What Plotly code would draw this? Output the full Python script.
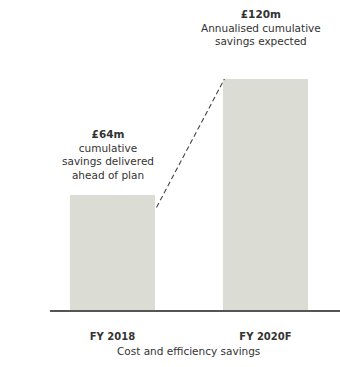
import plotly.graph_objects as go

categories = ["FY 2018", "FY 2020F"]
values = [64, 120]
value_labels = ["£64m", "£120m"]
descriptions = ["cumulative<br>savings delivered<br>ahead of plan",
                "Annualised cumulative<br>savings expected"]
axis_title = "Cost and efficiency savings"

bar_color = "#dbdcd4"
text_color = "#333333"
font_family = "'DejaVu Sans', sans-serif"
bar_width = 0.556

fig = go.Figure()
fig.add_trace(go.Bar(x=[0, 1], y=values, width=bar_width,
                     marker=dict(color=bar_color, line=dict(width=0)),
                     hoverinfo="skip"))

# dashed connector between the bars
fig.add_trace(go.Scatter(x=[0 + bar_width / 2 + 0.01, 1 - bar_width / 2 + 0.01],
                         y=[values[0] - 6, values[1]],
                         mode="lines", line=dict(color="#444444", width=1.1, dash="5px,3px"),
                         hoverinfo="skip"))

# annotations above bars
label_pos = [(-0.03, 97.5), (-0.03 + 1, 155)]
for i, (xx, yy) in enumerate(label_pos):
    fig.add_annotation(x=xx, y=yy, xref="x", yref="y", yanchor="top", showarrow=False,
                       text="<b>" + value_labels[i] + "</b><br>" + descriptions[i],
                       font=dict(family=font_family, size=10.5, color=text_color),
                       align="center")

fig.add_annotation(x=0.5, y=0, xref="x", yref="paper", yanchor="middle", yshift=-40,
                   showarrow=False, text=axis_title,
                   font=dict(family=font_family, size=10.5, color=text_color))

fig.update_layout(
    width=340, height=367,
    margin=dict(l=50, r=0, t=0, b=56),
    paper_bgcolor="white", plot_bgcolor="white",
    showlegend=False,
    xaxis=dict(range=[-0.408, 1.487], tickmode="array", tickvals=[0, 1],
               ticktext=["<b>" + c + "</b>" for c in categories],
               tickfont=dict(family=font_family, size=10, color=text_color),
               showgrid=False, zeroline=False, showline=False, ticks="", ticklen=0,
               ticklabelstandoff=18),
    yaxis=dict(range=[8, 158.1], visible=False, showgrid=False, zeroline=False),
)

fig.add_shape(type="line", xref="paper", yref="paper", x0=0, x1=1, y0=0, y1=0,
              line=dict(color="#555555", width=2))

fig.write_html("out.html")
